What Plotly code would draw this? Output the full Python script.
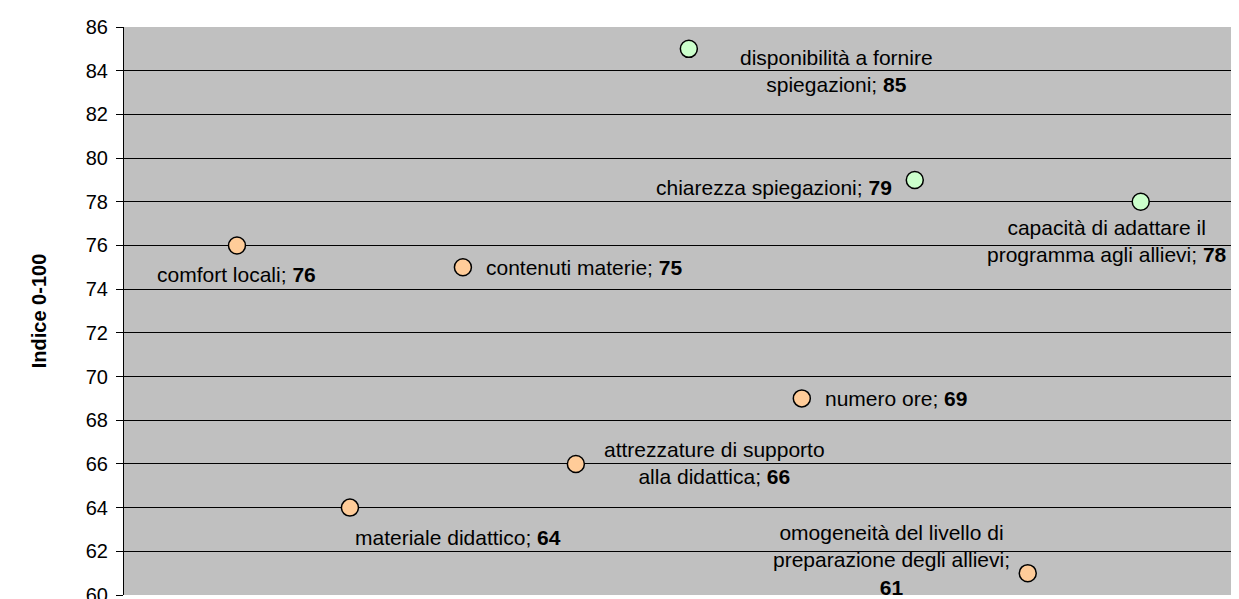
import plotly.graph_objects as go

# dati del grafico
voci = ["comfort locali", "materiale didattico", "contenuti materie",
        "attrezzature di supporto alla didattica", "disponibilità a fornire spiegazioni",
        "numero ore", "chiarezza spiegazioni",
        "omogeneità del livello di preparazione degli allievi",
        "capacità di adattare il programma agli allievi"]
etichette = ["comfort locali;", "materiale didattico;", "contenuti materie;",
             "attrezzature di supporto<br>alla didattica;", "disponibilità a fornire<br>spiegazioni;",
             "numero ore;", "chiarezza spiegazioni;",
             "omogeneità del livello di<br>preparazione degli allievi;<br>",
             "capacità di adattare il<br>programma agli allievi;"]
posizione = [1, 2, 3, 4, 5, 6, 7, 8, 9]
indice = [76, 64, 75, 66, 85, 69, 79, 61, 78]
gruppo = ["A", "A", "A", "A", "B", "A", "B", "A", "B"]
y_ticks = list(range(60, 87, 2))

colori = {"A": "#FFCC99", "B": "#CCFFCC"}
font_fam = "Liberation Sans, Arial"

# spostamento etichette (xshift, yshift, xanchor)
spost = [(0, -29, "center"), (108, -30, "center"), (21, 0, "left"),
         (139, 1, "center"), (148, -22, "center"), (21, 0, "left"),
         (-21, -8, "right"), (-136, 13, "center"), (-34, -39, "center")]

fig = go.Figure()
fig.add_trace(go.Scatter(
    x=posizione, y=indice, mode="markers", text=voci,
    marker=dict(size=17, color=[colori[g] for g in gruppo],
                line=dict(color="black", width=1.5)),
    hoverinfo="text+y", cliponaxis=False, showlegend=False))

for i, v in enumerate(indice):
    dx, dy, xa = spost[i]
    sep = "" if etichette[i].endswith("<br>") else " "
    fig.add_annotation(x=posizione[i], y=v, text=f"{etichette[i]}{sep}<b>{v}</b>",
                       showarrow=False, xshift=dx, yshift=dy, xanchor=xa,
                       yanchor="middle", align="center",
                       font=dict(size=21, color="black", family=font_fam))

fig.update_xaxes(range=[0, 9.87], visible=False, showgrid=False, zeroline=False)
fig.update_yaxes(
    range=[60, 86], tickvals=y_ticks, showgrid=True, gridcolor="black", gridwidth=1,
    showline=True, linecolor="black", linewidth=1, ticks="outside", ticklen=7,
    tickcolor="black", zeroline=False, ticklabelstandoff=4,
    tickfont=dict(size=20, color="black", family=font_fam),
    title=dict(text="<b>Indice 0-100</b>", standoff=33,
               font=dict(size=20, color="black", family=font_fam)))
fig.update_layout(
    width=1231, height=599,
    margin=dict(l=116, r=0, t=19, b=12, autoexpand=False),
    plot_bgcolor="#C0C0C0", paper_bgcolor="white")

fig.write_html("out.html")
